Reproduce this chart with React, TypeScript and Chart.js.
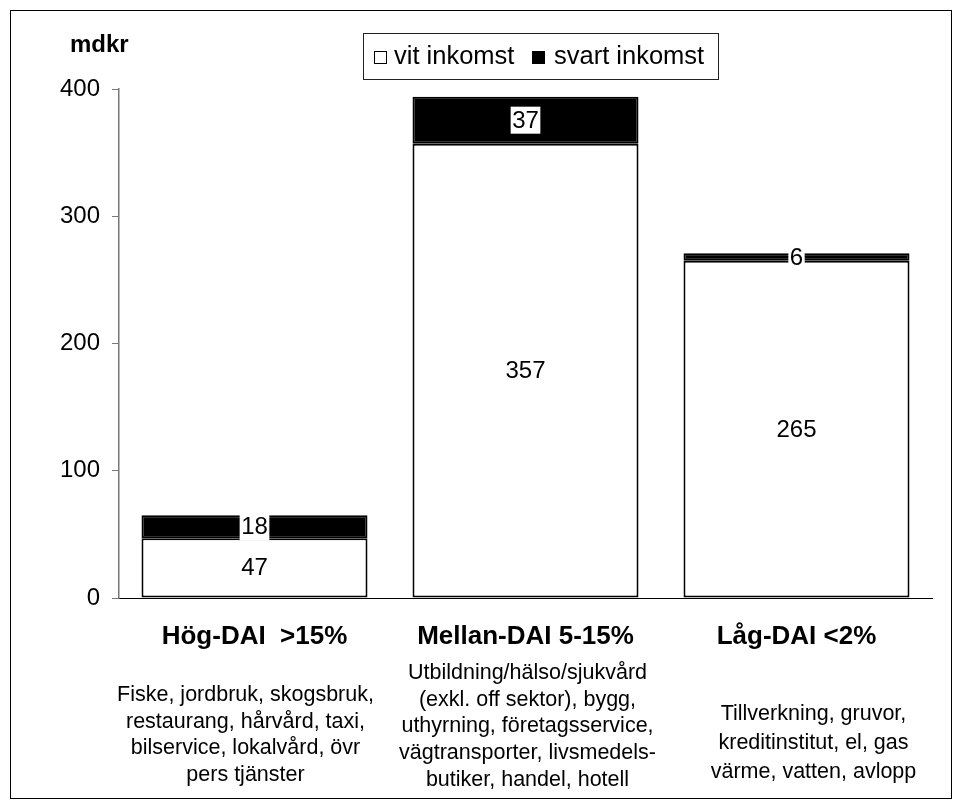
import React, { useEffect, useRef } from "react";
import { Chart, registerables } from "chart.js";

Chart.register(...registerables);

// ---- data ----
const categories = ["Hög-DAI  >15%", "Mellan-DAI 5-15%", "Låg-DAI <2%"];
const descriptions = [
  ["Fiske, jordbruk, skogsbruk,", "restaurang, hårvård, taxi,", "bilservice, lokalvård, övr", "pers tjänster"],
  [
    "Utbildning/hälso/sjukvård",
    "(exkl. off sektor), bygg,",
    "uthyrning, företagsservice,",
    "vägtransporter, livsmedels-",
    "butiker, handel, hotell",
  ],
  ["Tillverkning, gruvor,", "kreditinstitut, el, gas", "värme, vatten, avlopp"],
];
const seriesNames = ["vit inkomst", "svart inkomst"];
const vitInkomst = [47, 357, 265];
const svartInkomst = [18, 37, 6];
const yMin = 0;
const yMax = 400;
const yStep = 100;
const yUnit = "mdkr";

// ---- layout / style ----
const FONT = "'Liberation Sans', Arial, Helvetica, sans-serif";
const W = 962;
const H = 808;
const descFirstLineY = [695, 673, 714];
const descLineHeight = [26.7, 26.7, 29];
const descOffsetX = [-9, 2, 17];

const overlayPlugin = {
  id: "overlay",
  afterDraw(chart: any) {
    const ctx = chart.ctx as CanvasRenderingContext2D;
    ctx.save();

    // outer frame
    ctx.strokeStyle = "#000";
    ctx.lineWidth = 1;
    ctx.strokeRect(10.5, 10.5, 941, 788);

    // unit label
    ctx.fillStyle = "#000";
    ctx.font = `bold 24px ${FONT}`;
    ctx.textAlign = "left";
    ctx.textBaseline = "alphabetic";
    ctx.fillText(yUnit, 70, 52);

    // legend
    ctx.strokeStyle = "#222";
    ctx.lineWidth = 1;
    ctx.strokeRect(363.5, 33.5, 355, 46);
    ctx.fillStyle = "#fff";
    ctx.fillRect(374, 51, 13, 13);
    ctx.strokeStyle = "#000";
    ctx.strokeRect(374.5, 51.5, 12, 12);
    ctx.fillStyle = "#000";
    ctx.fillRect(532, 51, 13, 13);
    ctx.font = `25.5px ${FONT}`;
    ctx.textBaseline = "middle";
    ctx.fillText(seriesNames[0], 394, 57);
    ctx.fillText(seriesNames[1], 554, 57);

    // value labels
    ctx.font = `24px ${FONT}`;
    ctx.textAlign = "center";
    ctx.textBaseline = "middle";
    chart.data.datasets.forEach((ds: any, di: number) => {
      const meta = chart.getDatasetMeta(di);
      meta.data.forEach((bar: any, i: number) => {
        const p = bar.getProps(["x", "y", "base"], true);
        const cy = (p.y + p.base) / 2;
        const txt = String(ds.data[i]);
        if (di === 1) {
          const w = ctx.measureText(txt).width + 3;
          const h = 27;
          ctx.fillStyle = "#fff";
          ctx.fillRect(p.x - w / 2, cy - h / 2, w, h);
        }
        ctx.fillStyle = "#000";
        ctx.fillText(txt, p.x, cy + 1);
      });
    });

    // category titles and descriptions
    const xs = chart.scales.x;
    categories.forEach((c, i) => {
      const x = xs.getPixelForValue(i);
      ctx.fillStyle = "#000";
      ctx.font = `bold 26px ${FONT}`;
      ctx.fillText(c, x, 637);
      ctx.font = `21.5px ${FONT}`;
      descriptions[i].forEach((line, li) => {
        ctx.fillText(line, x + descOffsetX[i], descFirstLineY[i] + li * descLineHeight[i]);
      });
    });

    ctx.restore();
  },
};

export default function App() {
  const ref = useRef<HTMLCanvasElement | null>(null);

  useEffect(() => {
    if (!ref.current) return;
    const chart = new Chart(ref.current, {
      type: "bar",
      data: {
        labels: categories,
        datasets: [
          {
            label: seriesNames[0],
            data: vitInkomst,
            backgroundColor: "#ffffff",
            borderColor: "#000000",
            borderWidth: 2,
            borderSkipped: false,
          },
          {
            label: seriesNames[1],
            data: svartInkomst,
            backgroundColor: "#000000",
            borderColor: "#000000",
            borderWidth: 2,
            borderSkipped: false,
          },
        ],
      },
      options: {
        animation: false,
        responsive: false,
        devicePixelRatio: 1,
        layout: { padding: { left: 10, top: 89, right: 30, bottom: 0 } },
        datasets: {
          bar: { categoryPercentage: 1, barPercentage: 0.834 },
        },
        plugins: {
          legend: { display: false },
          tooltip: { enabled: false },
        },
        scales: {
          x: {
            stacked: true,
            grid: { display: false },
            border: { display: true, color: "#000", width: 1 },
            ticks: { display: false },
            afterFit: (s: any) => {
              s.height = H - 598;
            },
          },
          y: {
            stacked: true,
            min: yMin,
            max: yMax,
            ticks: {
              stepSize: yStep,
              color: "#000",
              padding: 12,
              font: { family: FONT, size: 24 },
            },
            grid: {
              drawOnChartArea: false,
              drawTicks: true,
              tickLength: 7,
              color: "#777",
            },
            border: { display: true, color: "#777", width: 1.5 },
            afterFit: (s: any) => {
              s.width = 109;
            },
          },
        },
      },
      plugins: [overlayPlugin],
    });
    return () => chart.destroy();
  }, []);

  return (
    <div style={{ position: "fixed", left: 0, top: 0, width: W, height: H, background: "#fff" }}>
      <canvas ref={ref} width={W} height={H} style={{ display: "block", width: W, height: H }} />
    </div>
  );
}
